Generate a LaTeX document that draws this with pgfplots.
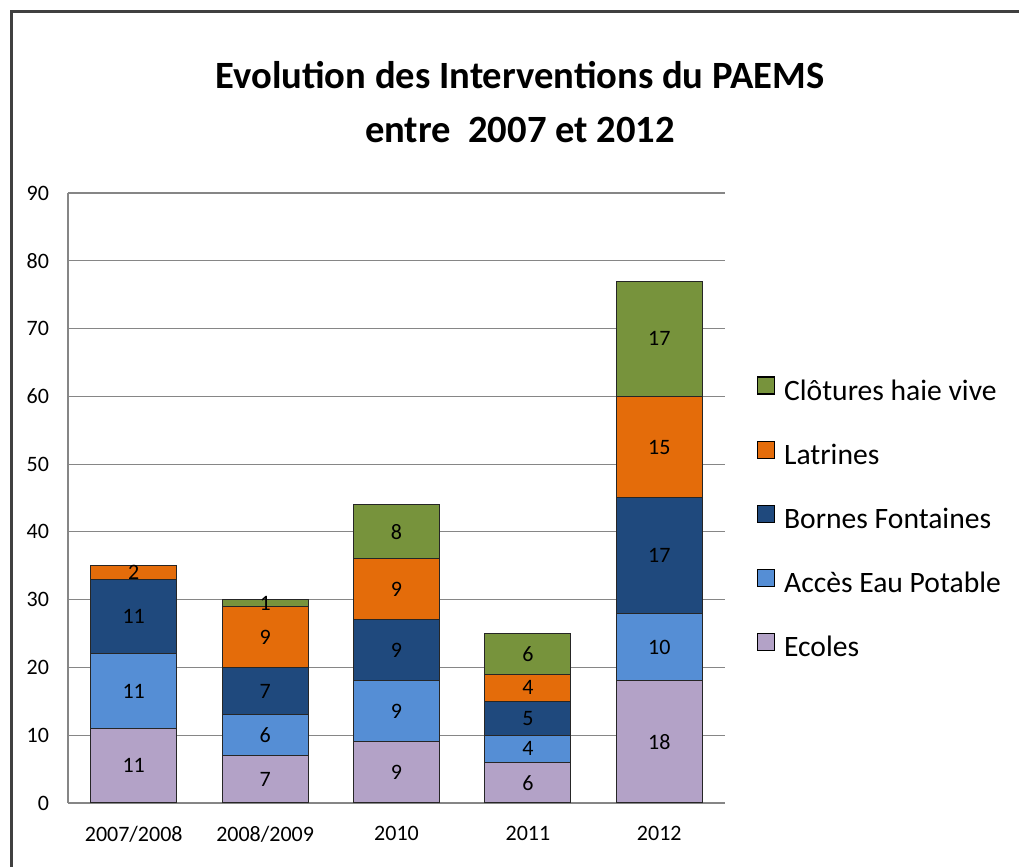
\documentclass[border=0pt]{standalone}
\usepackage{fontspec}
\setmainfont{Carlito}
\usepackage{pgfplots}
\pgfplotsset{compat=1.18}
\usepackage{pgfplotstable}

\definecolor{cEcoles}{HTML}{B3A2C7}
\definecolor{cAcces}{HTML}{558ED5}
\definecolor{cBornes}{HTML}{1F497D}
\definecolor{cLatrines}{HTML}{E46C0A}
\definecolor{cClotures}{HTML}{77933C}
\definecolor{gridgray}{RGB}{134,134,134}

\pgfplotstableread{
x y
0 11
1 7
2 9
3 6
4 18
}\ecoles
\pgfplotstableread{
x y
0 11
1 6
2 9
3 4
4 10
}\acces
\pgfplotstableread{
x y
0 11
1 7
2 9
3 5
4 17
}\bornes
\pgfplotstableread{
x y
0 2
1 9
2 9
3 4
4 15
}\latrines
\pgfplotstableread{
x y
0 0
1 1
2 8
3 6
4 17
}\clotures

\begin{document}
\begin{tikzpicture}
\useasboundingbox (0,0) rectangle (509.5pt,433.5pt);
\draw[line width=1.5pt, black!75] (5.5pt,0) -- (5.5pt,427.5pt) -- (509.5pt,427.5pt);
\node[font=\fontsize{19.3}{23}\selectfont\bfseries] at (260pt,396pt) {Evolution des Interventions du PAEMS};
\node[font=\fontsize{19.3}{23}\selectfont\bfseries] at (260pt,368.5pt) {entre\ \ 2007 et 2012};
\begin{axis}[
  at={(34pt,32pt)}, anchor=south west,
  scale only axis, width=328.5pt, height=305pt,
  ybar stacked, bar width=43pt,
  xmin=-0.5, xmax=4.5, ymin=0, ymax=90,
  xtick={0,1,2,3,4},
  xticklabels={2007/2008,2008/2009,2010,2011,2012},
  ytick={0,10,...,90},
  ymajorgrids, grid style={gridgray, line width=0.6pt},
  axis x line*=bottom, axis y line*=left,
  axis line style={gridgray, line width=0.9pt, -},
  major tick length=0pt,
  tick label style={font=\fontsize{11}{13}\selectfont},
  /pgf/number format/assume math mode=true,
  yticklabel style={xshift=-6pt},
  xticklabel style={yshift=-8pt},
  visualization depends on={\thisrow{y} \as \rawy},
  nodes near coords={\pgfmathparse{\rawy>0}\ifdim\pgfmathresult pt>0.5pt \pgfmathprintnumber{\rawy}\fi},
  nodes near coords align={center},
  every node near coord/.append style={anchor=center, font=\fontsize{11}{13}\selectfont, text=black},
  reverse legend,
  legend style={draw=none, fill=none, inner sep=0pt, row sep=17.25pt, column sep=4.5pt,
    at={(1.048,0.700)}, anchor=north west,
    nodes={inner sep=0pt, text height=10pt, text depth=3pt, font=\fontsize{14.8}{17}\selectfont}},
  legend cell align=left,
  legend image code/.code={\draw[#1, draw=black, line width=0.6pt] (0pt,-0.5pt) rectangle (8.5pt,8pt);},
]
\addplot[fill=cEcoles, draw=black!85, line width=0.5pt] table {\ecoles};
\addplot[fill=cAcces, draw=black!85, line width=0.5pt] table {\acces};
\addplot[fill=cBornes, draw=black!85, line width=0.5pt] table {\bornes};
\addplot[fill=cLatrines, draw=black!85, line width=0.5pt] table {\latrines};
\addplot[fill=cClotures, draw=black!85, line width=0.5pt] table {\clotures};
\legend{Ecoles, Accès Eau Potable, Bornes Fontaines, Latrines, Clôtures haie vive}
\end{axis}
\end{tikzpicture}
\end{document}
